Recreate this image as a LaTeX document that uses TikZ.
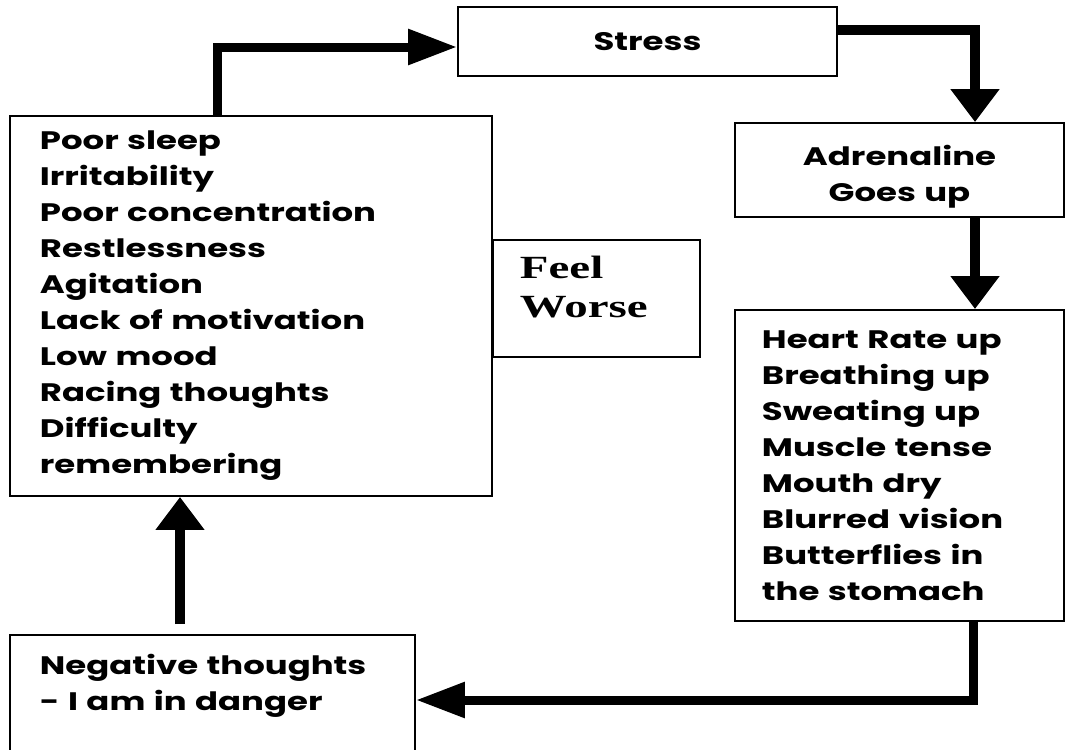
\documentclass[tikz,border=0pt]{standalone}
\usepackage{fontspec}
\setmainfont{Poppins}[FakeStretch=1.34]
\newfontfamily\feelfont{Liberation Serif}[FakeStretch=1.45]
\usepackage{tikz}
\usetikzlibrary{arrows.meta}
\definecolor{Ink}{HTML}{000000}
\tikzset{
  box/.style={draw=Ink,line width=1.3pt,inner ysep=0pt,font=\fontsize{18}{25.6}\selectfont\bfseries},
  across/.style={Ink,line width=0.225cm,-{Triangle[length=1.225cm,width=0.85cm]}},
  updown/.style={Ink,line width=0.24cm,-{Triangle[length=0.825cm,width=1.175cm]}},
}

\begin{document}
\begin{tikzpicture}[x=0.025cm,y=-0.025cm]
        \clip (0,0) rectangle (1067,750);
        \node[box,minimum width=9.475cm,minimum height=1.725cm] (stress) at (647.5,41.5) {Stress};
        \node[box,align=center,text width=6.875cm,inner xsep=0.675cm,minimum height=2.35cm,text depth=0.75cm] (adren) at (899.5,170) {Adrenaline\\Goes up};
        \node[box,align=left,text width=6.875cm,inner xsep=0.675cm,minimum height=7.775cm] (body) at (899.5,465.5)
          {Heart Rate up\\Breathing up\\Sweating up\\Muscle tense\\Mouth dry\\Blurred vision\\Butterflies in\\the stomach};
        \node[box,align=left,text width=10.55cm,inner xsep=0.75cm,minimum height=9.5cm] (signs) at (251,306)
          {Poor sleep\\Irritability\\Poor concentration\\Restlessness\\Agitation\\Lack of motivation\\Low mood\\Racing thoughts\\Difficulty\\remembering};
        \node[box,align=left,text width=3.825cm,inner xsep=0.675cm,minimum height=2.925cm,text depth=1.55cm,
          font=\feelfont\fontsize{23}{27.6}\selectfont\bfseries] (worse) at (596.5,298.5) {Feel\\Worse};
        \node[box,align=left,text width=8.625cm,inner xsep=0.75cm,minimum height=3.25cm] (danger) at (212.5,700)
          {Negative thoughts\\- I am in danger\\\mbox{}};
        % cycle
        \draw[across] (signs.north -| 217,0) |- (stress.west |- 0,47);
        \draw[updown] (stress.east |- 0,30) -| (adren.north -| 975,0);
        \draw[updown] (adren.south -| 975,0) -- (body.north -| 975,0);
        \draw[across] (body.south -| 973,0) |- (danger.east);
        \draw[updown,shorten <=7] (danger.north -| 180,0) -- (signs.south -| 180,0);
      \end{tikzpicture}
\end{document}
